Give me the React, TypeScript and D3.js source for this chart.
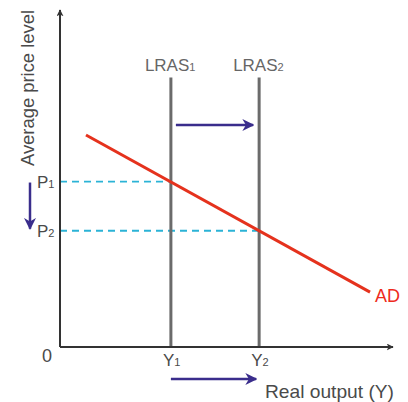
import React from "react";
import * as d3 from "d3";

const W = 408;
const H = 402;

// abstract units
const lrasX = [33.3, 59.8]; // Y1, Y2
const lrasLabels = ["1", "2"];
const lrasTop = 80;
const adPoints: [number, number][] = [
  [7.8, 62.9],
  [93.1, 16.3],
];
const priceLevels = [49.1, 34.5]; // P1, P2
const priceLabels = ["1", "2"];

const x = d3.scaleLinear().domain([0, 100]).range([60, 393]);
const y = d3.scaleLinear().domain([0, 100]).range([347, 10]);

const textColor = "#4a4a4a";
const navy = "#3a2d8c";
const font = "'Liberation Sans', Arial, sans-serif";

export default function App() {
  const line = d3
    .line<[number, number]>()
    .x((d) => x(d[0]))
    .y((d) => y(d[1]));

  return (
    <svg width={W} height={H} style={{ position: "absolute", left: 0, top: 0 }} fontFamily={font}>
      <defs>
        <marker id="ax" viewBox="0 0 10 10" refX="9" refY="5" markerWidth="7" markerHeight="7" orient="auto" markerUnits="userSpaceOnUse">
          <path d="M0,0 L10,5 L0,10 L2.5,5 z" fill="#333" />
        </marker>
        <marker id="nv" viewBox="0 0 10 10" refX="9" refY="5" markerWidth="12" markerHeight="12" orient="auto" markerUnits="userSpaceOnUse">
          <path d="M0,0 L10,5 L0,10 L3,5 z" fill={navy} />
        </marker>
      </defs>

      {/* dashed price lines */}
      {priceLevels.map((p, i) => (
        <line key={"d" + i} x1={x(0)} x2={x(lrasX[i])} y1={y(p)} y2={y(p)} stroke="#2bb3d6" strokeWidth={1.8} strokeDasharray="7,5" />
      ))}

      {/* LRAS lines */}
      {lrasX.map((v, i) => (
        <g key={"l" + i}>
          <line x1={x(v)} x2={x(v)} y1={y(lrasTop)} y2={y(0)} stroke="#6b6b6b" strokeWidth={3} />
          <text x={x(v) - 26} y={y(lrasTop) - 6} fontSize={17} fill="#666">
            LRAS<tspan fontSize={11}>{lrasLabels[i]}</tspan>
          </text>
          <text x={x(v) - 8} y={y(0) + 19} fontSize={17} fill={textColor}>
            Y<tspan fontSize={11}>{lrasLabels[i]}</tspan>
          </text>
        </g>
      ))}

      {/* axes */}
      <line x1={x(0)} x2={x(0)} y1={y(0)} y2={10} stroke="#333" strokeWidth={2} markerEnd="url(#ax)" />
      <line x1={x(0)} x2={393} y1={y(0)} y2={y(0)} stroke="#333" strokeWidth={2} markerEnd="url(#ax)" />

      {/* AD */}
      <path d={line(adPoints) || ""} stroke="#e5321d" strokeWidth={3} fill="none" />
      <text x={x(adPoints[1][0]) + 5} y={y(adPoints[1][1]) + 10} fontSize={18} fill="#ee2b1c">AD</text>

      {/* price labels */}
      {priceLevels.map((p, i) => (
        <text key={"p" + i} x={37} y={y(p) + 6} fontSize={17} fill={textColor}>
          P<tspan fontSize={11}>{priceLabels[i]}</tspan>
        </text>
      ))}

      <text x={42} y={y(0) + 15} fontSize={18} fill={textColor}>0</text>

      {/* shift arrows */}
      <line x1={x(lrasX[0]) + 5} x2={x(lrasX[1]) - 6} y1={125} y2={125} stroke={navy} strokeWidth={2.5} markerEnd="url(#nv)" />
      <line x1={x(lrasX[0])} x2={x(lrasX[1]) - 3} y1={379} y2={379} stroke={navy} strokeWidth={2.5} markerEnd="url(#nv)" />
      <line x1={30} x2={30} y1={y(priceLevels[0]) + 1} y2={y(priceLevels[1]) - 2} stroke={navy} strokeWidth={2.5} markerEnd="url(#nv)" />

      {/* axis titles */}
      <text x={265} y={398} fontSize={18.5} fill={textColor} textLength={129} lengthAdjust="spacingAndGlyphs">Real output (Y)</text>
      <text transform={`translate(34,166) rotate(-90)`} fontSize={18} fill={textColor} textLength={156} lengthAdjust="spacingAndGlyphs">Average price level</text>
    </svg>
  );
}
